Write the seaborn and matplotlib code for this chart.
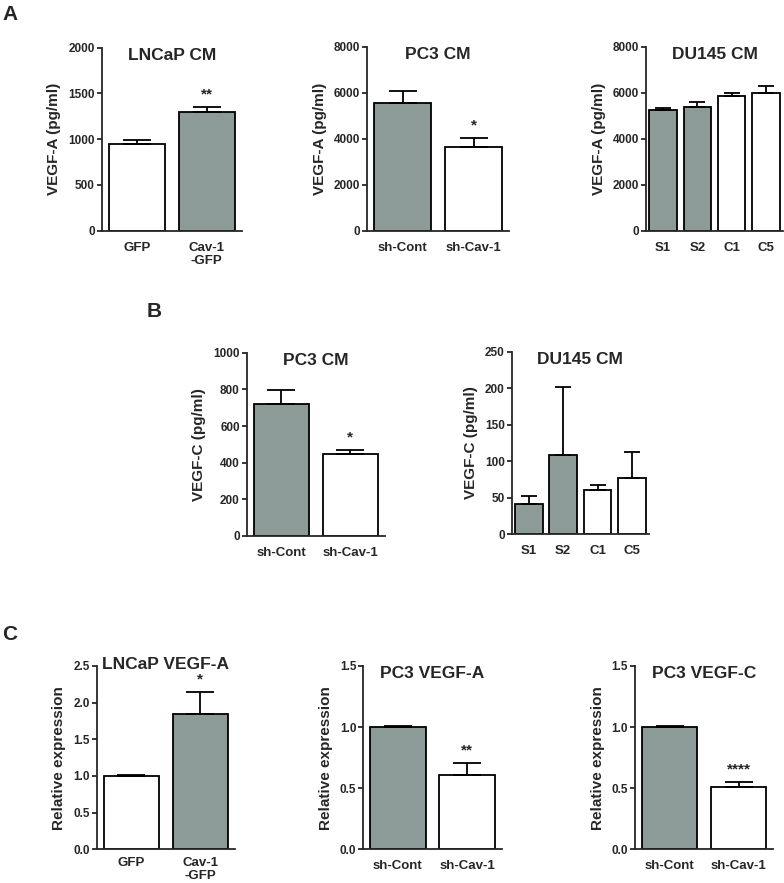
import numpy as np
import pandas as pd
import seaborn as sns
import matplotlib.pyplot as plt

GRAY = '#8b9d99'
WHITE = '#ffffff'

# panel A - VEGF-A protein in conditioned media
a1_cats = ['GFP', 'Cav-1\n-GFP']
a1_vals = [950, 1295]
a1_errs = [40, 58]
a1_cols = [WHITE, GRAY]

a2_cats = ['sh-Cont', 'sh-Cav-1']
a2_vals = [5570, 3660]
a2_errs = [500, 370]
a2_cols = [GRAY, WHITE]

a3_cats = ['S1', 'S2', 'C1', 'C5']
a3_vals = [5250, 5370, 5860, 5990]
a3_errs = [100, 210, 140, 290]
a3_cols = [GRAY, GRAY, WHITE, WHITE]

# panel B - VEGF-C protein
b1_cats = ['sh-Cont', 'sh-Cav-1']
b1_vals = [720, 445]
b1_errs = [75, 22]
b1_cols = [GRAY, WHITE]

b2_cats = ['S1', 'S2', 'C1', 'C5']
b2_vals = [42, 109, 61, 77]
b2_errs = [11, 92, 6, 36]
b2_cols = [GRAY, GRAY, WHITE, WHITE]

# panel C - relative mRNA expression
c1_cats = ['GFP', 'Cav-1\n-GFP']
c1_vals = [1.0, 1.84]
c1_errs = [0.01, 0.30]
c1_cols = [WHITE, GRAY]

c2_cats = ['sh-Cont', 'sh-Cav-1']
c2_vals = [1.0, 0.605]
c2_errs = [0.008, 0.10]
c2_cols = [GRAY, WHITE]

c3_cats = ['sh-Cont', 'sh-Cav-1']
c3_vals = [1.0, 0.513]
c3_errs = [0.011, 0.038]
c3_cols = [GRAY, WHITE]

sns.set_style('ticks')
plt.rcParams['font.family'] = ['Liberation Sans', 'DejaVu Sans']
plt.rcParams['font.weight'] = 'bold'

W, H = 784, 883
fig = plt.figure(figsize=(W / 100, H / 100), dpi=100)


def panel(box, cats, vals, errs, cols, title, ylabel, ymax, ystep, stars,
          fmt='{:.0f}', title_y=1.0, xpad=8):
    x0, x1, y0, y1 = box
    ax = fig.add_axes([x0 / W, 1 - y1 / H, (x1 - x0) / W, (y1 - y0) / H])
    df = pd.DataFrame({'cat': cats, 'val': vals})
    sns.barplot(data=df, x='cat', y='val', hue='cat', palette=cols, legend=False,
                errorbar=None, width=0.8, edgecolor='black', linewidth=1.3, ax=ax)
    n = len(cats)
    cap = 10 if n == 2 else 5.5
    ax.errorbar(np.arange(n), vals, yerr=[np.zeros(n), errs], fmt='none',
                ecolor='black', elinewidth=1.3, capsize=cap, capthick=1.3, zorder=1)
    for i, s in enumerate(stars):
        if s:
            ax.text(i, vals[i] + errs[i] + 0.07 * ymax, s, ha='center', va='center',
                    fontsize=11, fontweight='bold')
    ax.set_xlim(-0.5, n - 0.5)
    ax.set_ylim(0, ymax)
    ticks = np.arange(0, ymax + ystep / 2, ystep)
    ax.set_yticks(ticks)
    ax.set_yticklabels([fmt.format(t) for t in ticks])
    ax.set_xlabel('')
    ax.set_ylabel(ylabel, fontsize=11, fontweight='bold', labelpad=5)
    ax.text(0.5, title_y, title, transform=ax.transAxes, ha='center', va='top',
            fontsize=12.5, fontweight='bold')
    sns.despine(ax=ax)
    for sp in ['left', 'bottom']:
        ax.spines[sp].set_linewidth(1.3)
    ax.tick_params(axis='y', direction='out', length=3.5, width=1.3, labelsize=8.5, pad=1.5)
    ax.tick_params(axis='x', length=0, labelsize=9.5, pad=xpad)
    for lab in ax.get_xticklabels() + ax.get_yticklabels():
        lab.set_fontweight('bold')
        lab.set_linespacing(1.1)
    return ax


panel((101.7, 241.7, 47.7, 230.7), a1_cats, a1_vals, a1_errs, a1_cols,
      'LNCaP CM', 'VEGF-A (pg/ml)', 2000, 500, ['', '**'])
panel((367.3, 509, 46.7, 230.7), a2_cats, a2_vals, a2_errs, a2_cols,
      'PC3 CM', 'VEGF-A (pg/ml)', 8000, 2000, ['', '*'])
panel((646, 783, 46.7, 230.7), a3_cats, a3_vals, a3_errs, a3_cols,
      'DU145 CM', 'VEGF-A (pg/ml)', 8000, 2000, ['', '', '', ''])

panel((246.7, 385, 352.7, 536), b1_cats, b1_vals, b1_errs, b1_cols,
      'PC3 CM', 'VEGF-C (pg/ml)', 1000, 200, ['', '*'])
panel((511.7, 649, 351.7, 534.3), b2_cats, b2_vals, b2_errs, b2_cols,
      'DU145 CM', 'VEGF-C (pg/ml)', 250, 50, ['', '', '', ''])

panel((96.7, 235, 666, 849.3), c1_cats, c1_vals, c1_errs, c1_cols,
      'LNCaP VEGF-A', 'Relative expression', 2.5, 0.5, ['', '*'],
      fmt='{:.1f}', title_y=1.05, xpad=5.5)
panel((363.3, 501.7, 666, 849.3), c2_cats, c2_vals, c2_errs, c2_cols,
      'PC3 VEGF-A', 'Relative expression', 1.5, 0.5, ['', '**'], fmt='{:.1f}')
panel((635, 773, 666, 849.3), c3_cats, c3_vals, c3_errs, c3_cols,
      'PC3 VEGF-C', 'Relative expression', 1.5, 0.5, ['', '****'], fmt='{:.1f}')

# panel letters
for letter, px, py in [('A', 2, 5), ('B', 147, 302), ('C', 2, 625)]:
    fig.text(px / W, 1 - py / H, letter, ha='left', va='top', fontsize=15, fontweight='bold')

fig.savefig('out.png', dpi=100)
